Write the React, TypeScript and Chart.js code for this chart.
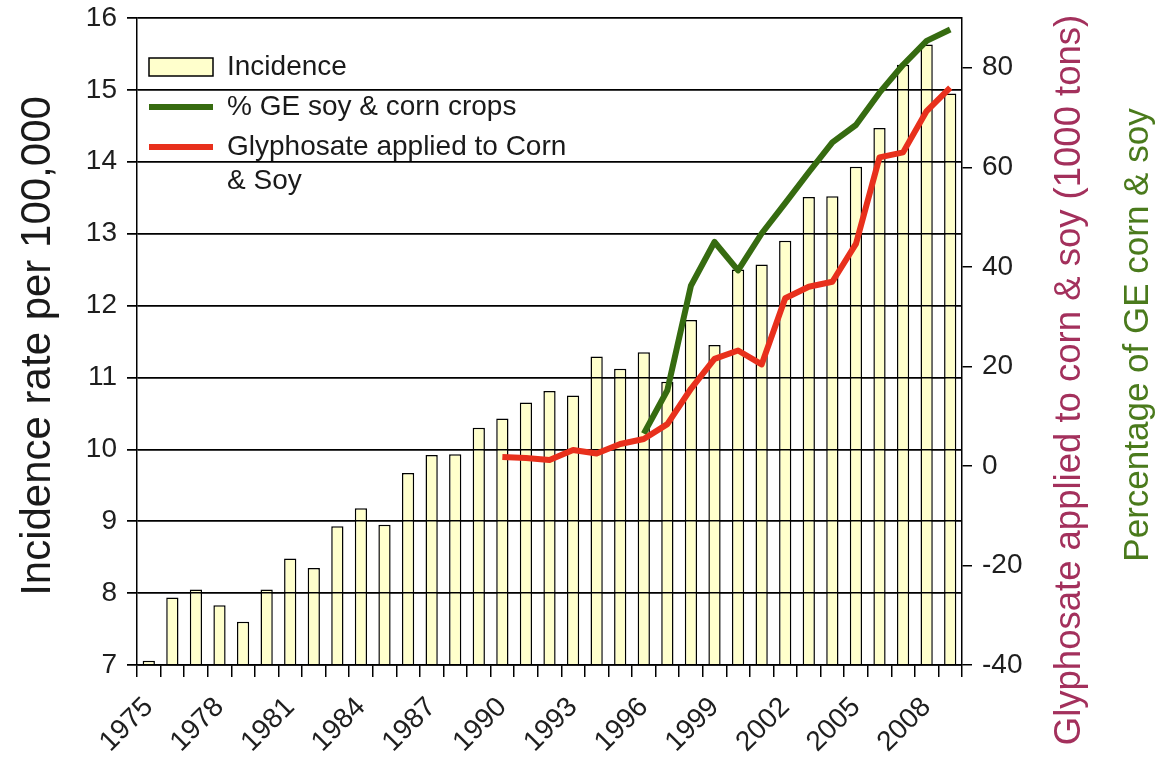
import React, { useEffect, useRef } from 'react';
import { Chart, registerables } from 'chart.js';

Chart.register(...registerables);

const years = [
  '1975', '1976', '1977', '1978', '1979', '1980', '1981', '1982', '1983', '1984',
  '1985', '1986', '1987', '1988', '1989', '1990', '1991', '1992', '1993', '1994',
  '1995', '1996', '1997', '1998', '1999', '2000', '2001', '2002', '2003', '2004',
  '2005', '2006', '2007', '2008', '2009',
];

// Incidence rate per 100,000 (left axis)
const incidence = [
  7.06, 7.94, 8.05, 7.83, 7.6, 8.05, 8.48, 8.35, 8.93, 9.18,
  8.95, 9.67, 9.92, 9.93, 10.3, 10.43, 10.65, 10.81, 10.75, 11.29,
  11.12, 11.35, 10.94, 11.8, 11.45, 12.5, 12.57, 12.9, 13.51, 13.52,
  13.93, 14.47, 15.35, 15.63, 14.95,
];

// Glyphosate applied to corn & soy, 1000 tons (right axis)
const glyphosate = [
  null, null, null, null, null, null, null, null, null, null,
  null, null, null, null, null, 1.8, 1.6, 1.2, 3.2, 2.5,
  4.4, 5.4, 8.4, 15.5, 21.5, 23.2, 20.4, 33.7, 36, 37,
  44.6, 62, 63, 71.3, 76,
];

// % GE soy & corn crops (right axis)
const geCrops = [
  null, null, null, null, null, null, null, null, null, null,
  null, null, null, null, null, null, null, null, null, null,
  null, 6.5, 15.2, 36.2, 45, 39.3, 46.7, 52.8, 59, 65,
  68.5, 75, 80.6, 85.4, 87.7,
];

const leftTitle = 'Incidence rate per 100,000';
const rightTitle1 = 'Glyphosate applied to corn & soy (1000 tons)';
const rightTitle2 = 'Percentage of GE corn & soy';

const FONT = '"Liberation Sans", Arial, sans-serif';
const GREEN = '#366b10';
const RED = '#e8301c';
const BAR_FILL = '#ffffcc';
const TICK_COLOR = '#1e1e1e';

const titlesPlugin = {
  id: 'sideTitles',
  afterDraw(chart: any) {
    const ctx = chart.ctx;
    const draw = (text: string, x: number, y: number, size: number, color: string) => {
      ctx.save();
      ctx.translate(x, y);
      ctx.rotate(-Math.PI / 2);
      ctx.font = `${size}px ${FONT}`;
      ctx.fillStyle = color;
      ctx.textAlign = 'center';
      ctx.textBaseline = 'alphabetic';
      ctx.fillText(text, 0, 0);
      ctx.restore();
    };
    const area = chart.chartArea;
    draw(leftTitle, 50, 346, 42, '#1a1a1a');
    draw(rightTitle1, area.right + 118, 380, 36.5, '#a3305c');
    draw(rightTitle2, area.right + 186, 335, 35, '#4a7a1c');
  },
};

const gridOverBarsPlugin = {
  id: 'gridOverBars',
  afterDatasetDraw(chart: any, args: any) {
    if (args.meta.type === 'bar') {
      chart.scales.y.drawGrid(chart.chartArea);
    }
  },
};

export default function App() {
  const ref = useRef<HTMLCanvasElement | null>(null);

  useEffect(() => {
    if (!ref.current) return;
    const chart = new Chart(ref.current, {
      type: 'bar',
      data: {
        labels: years,
        datasets: [
          {
            type: 'line',
            label: '% GE soy & corn crops',
            data: geCrops,
            borderColor: GREEN,
            backgroundColor: GREEN,
            borderWidth: 6,
            pointRadius: 0,
            tension: 0,
            borderJoinStyle: 'round',
            yAxisID: 'y1',
            order: 2,
          } as any,
          {
            type: 'line',
            label: 'Glyphosate applied to Corn & Soy',
            data: glyphosate,
            borderColor: RED,
            backgroundColor: RED,
            borderWidth: 6,
            pointRadius: 0,
            tension: 0,
            borderJoinStyle: 'round',
            yAxisID: 'y1',
            order: 1,
          } as any,
          {
            type: 'bar',
            label: 'Incidence',
            data: incidence,
            backgroundColor: BAR_FILL,
            borderColor: '#000000',
            borderWidth: 1.5,
            barPercentage: 0.52,
            categoryPercentage: 1,
            yAxisID: 'y',
            order: 3,
          } as any,
        ],
      },
      options: {
        responsive: false,
        animation: false,
        layout: { padding: { top: 18, left: 0, right: 0, bottom: 0 } },
        plugins: {
          tooltip: { enabled: false },
          legend: {
            display: true,
            position: 'chartArea',
            align: 'start',
            title: { display: true, text: ' ', font: { size: 10, lineHeight: '41px' }, padding: 0 },
            labels: {
              usePointStyle: true,
              pointStyleWidth: 64,
              boxWidth: 64,
              boxHeight: 18,
              padding: 12,
              color: '#1a1a1a',
              font: { family: FONT, size: 28, lineHeight: 1.22 },
              generateLabels: (c: any) => {
                const ds = c.data.datasets;
                const bar = ds[2];
                const ge = ds[0];
                const gl = ds[1];
                return [
                  { text: bar.label, fillStyle: bar.backgroundColor, strokeStyle: bar.borderColor, lineWidth: 1.5, pointStyle: 'rect', datasetIndex: 2, hidden: false, fontColor: '#1a1a1a' },
                  { text: ge.label, fillStyle: ge.borderColor, strokeStyle: ge.borderColor, lineWidth: 6, pointStyle: 'line', datasetIndex: 0, hidden: false, fontColor: '#1a1a1a' },
                  { text: ['Glyphosate applied to Corn', '& Soy'], fillStyle: gl.borderColor, strokeStyle: gl.borderColor, lineWidth: 6, pointStyle: 'line', datasetIndex: 1, hidden: false, fontColor: '#1a1a1a' },
                ];
              },
            },
          },
        },
        scales: {
          x: {
            type: 'category',
            offset: true,
            afterFit: (s: any) => { s.height = 97; },
            grid: {
              display: true,
              drawOnChartArea: false,
              drawTicks: true,
              tickLength: 12,
              color: '#000000',
              lineWidth: 1.5,
              offset: true,
            },
            border: { display: true, color: '#000000', width: 1.5 },
            ticks: {
              autoSkip: false,
              maxRotation: 45,
              minRotation: 45,
              padding: 14,
              color: TICK_COLOR,
              font: { family: FONT, size: 28 },
              callback: (_v: any, i: number) => (i % 3 === 0 ? years[i] : ''),
            },
          },
          y: {
            type: 'linear',
            position: 'left',
            min: 7,
            max: 16,
            afterFit: (s: any) => { s.width = 137; },
            ticks: {
              stepSize: 1,
              padding: 10,
              color: TICK_COLOR,
              font: { family: FONT, size: 28, lineHeight: 0.4 },
            },
            grid: {
              color: '#000000',
              lineWidth: 1.5,
              drawTicks: true,
              tickLength: 10,
            },
            border: { display: true, color: '#000000', width: 1.5 },
          },
          y1: {
            type: 'linear',
            position: 'right',
            min: -40,
            max: 90,
            afterFit: (s: any) => { s.width = 196; },
            ticks: {
              stepSize: 20,
              includeBounds: false,
              padding: 10,
              color: TICK_COLOR,
              font: { family: FONT, size: 28, lineHeight: 0.4 },
            },
            grid: {
              drawOnChartArea: false,
              drawTicks: true,
              tickLength: 10,
              color: '#000000',
              lineWidth: 1.5,
            },
            border: { display: true, color: '#000000', width: 1.5 },
          },
        },
      } as any,
      plugins: [gridOverBarsPlugin, titlesPlugin],
    });
    return () => chart.destroy();
  }, []);

  return (
    <div style={{ position: 'fixed', left: 0, top: 0, width: 1158, height: 762, background: '#ffffff' }}>
      <canvas ref={ref} width={1158} height={762} style={{ display: 'block' }} />
    </div>
  );
}
